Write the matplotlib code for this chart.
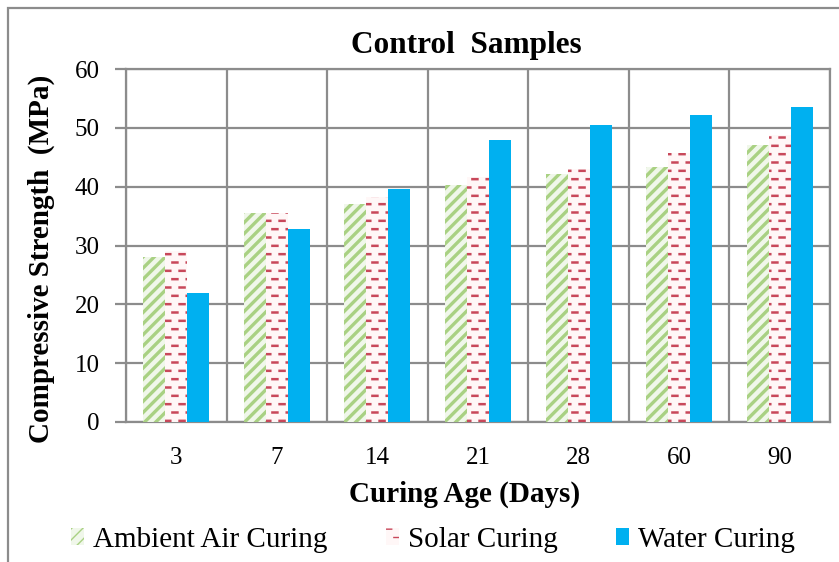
import warnings
import numpy as np
import matplotlib
matplotlib.use("Agg")
import matplotlib.pyplot as plt
import matplotlib.hatch as mhatch
from matplotlib.path import Path
from matplotlib.patches import Rectangle, Patch

warnings.filterwarnings("ignore")

# ---- data -------------------------------------------------------------
ages = ["3", "7", "14", "21", "28", "60", "90"]
ambient_air = [28.1, 35.5, 37.0, 40.2, 42.2, 43.4, 47.0]
solar = [29.0, 35.6, 38.2, 41.6, 43.0, 45.7, 48.8]
water = [22.0, 32.8, 39.6, 48.0, 50.5, 52.2, 53.6]
series_names = ["Ambient Air Curing", "Solar Curing", "Water Curing"]
y_ticks = [0, 10, 20, 30, 40, 50, 60]


# ---- staggered short-dash fill pattern (hatch character '=') ----------
class DashHatch(mhatch.HatchPatternBase):
    def __init__(self, hatch, density):
        self.rows = 12 if "=" in hatch else 0
        self.cols = 7
        self.length = 0.05
        self.num_vertices = self.rows * self.cols * 2

    def set_vertices_and_codes(self, vertices, codes):
        k = 0
        for r in range(self.rows):
            y = (r + 0.5) / self.rows
            off = 0.5 / self.cols if r % 2 else 0.0
            for c in range(self.cols):
                x0 = c / self.cols + off + 0.01
                vertices[k] = (x0, y)
                vertices[k + 1] = (x0 + self.length, y)
                codes[k] = Path.MOVETO
                codes[k + 1] = Path.LINETO
                k += 2


mhatch._hatch_types.append(DashHatch)

plt.rcParams["font.family"] = ["Liberation Serif", "DejaVu Serif"]

W, H = 839, 562
fig = plt.figure(figsize=(W / 100, H / 100), dpi=100)
ax = fig.add_axes([126 / W, 1 - 422 / H, (830 - 126) / W, (422 - 69) / H])

grid_c = "#8c8c8c"
x = np.arange(len(ages))
bw = 0.219

styles = [
    dict(facecolor="#f0f7ea", edgecolor="#a9d183", hatch="///", hlw=2.4),
    dict(facecolor="#fff7f7", edgecolor="#c8485a", hatch="=", hlw=1.8),
    dict(facecolor="#00b0f0", edgecolor="#00b0f0", hatch=None, hlw=1.0),
]
values = [ambient_air, solar, water]
offsets = [-bw, 0.0, bw]

handles = []
for vals, off, st, name in zip(values, offsets, styles, series_names):
    with plt.rc_context({"hatch.linewidth": st["hlw"]}):
        ax.bar(x + off, vals, width=bw, facecolor=st["facecolor"],
               edgecolor=st["edgecolor"], hatch=st["hatch"], linewidth=0,
               zorder=3)
        handles.append(Patch(facecolor=st["facecolor"], edgecolor=st["edgecolor"],
                             hatch=st["hatch"], linewidth=0, label=name))

ax.set_xlim(-0.5, len(ages) - 0.5)
ax.set_ylim(0, 60)
ax.set_yticks(y_ticks)
ax.set_xticks(x)
ax.set_xticklabels(ages)
ax.set_xticks(np.arange(-0.5, len(ages)), minor=True)

ax.grid(axis="y", which="major", color=grid_c, linewidth=1.6, zorder=0)
ax.grid(axis="x", which="minor", color=grid_c, linewidth=1.6, zorder=0)
ax.set_axisbelow(True)
for s in ax.spines.values():
    s.set_color(grid_c)
    s.set_linewidth(1.6)

ax.tick_params(axis="y", which="major", direction="out", length=8, width=1.6,
               color=grid_c, labelsize=18, pad=11)
ax.tick_params(axis="x", which="both", length=0, labelsize=18, pad=18)

# titles and axis labels
fig.text(466 / W, 1 - 45 / H, "Control  Samples", ha="center", va="center",
         fontsize=22.5, fontweight="bold")
fig.text(465 / W, 1 - 494 / H, "Curing Age (Days)", ha="center", va="center",
         fontsize=21, fontweight="bold")
fig.text(41 / W, 1 - 259 / H, "Compressive Strength  (MPa)", ha="center",
         va="center", rotation=90, fontsize=21, fontweight="bold")

leg = fig.legend(handles=handles, loc="center", ncol=3,
                 bbox_to_anchor=(433 / W, 1 - 540 / H), frameon=False,
                 fontsize=21, handlelength=0.45, handleheight=0.52,
                 handletextpad=0.31, columnspacing=2.0, borderpad=0)

# chart frame
fig.add_artist(Rectangle((8 / W, -0.1), 1.2, 1.1 - 8 / H,
                         transform=fig.transFigure, fill=False,
                         edgecolor=grid_c, linewidth=1.6))

fig.savefig("out.png", dpi=100)
